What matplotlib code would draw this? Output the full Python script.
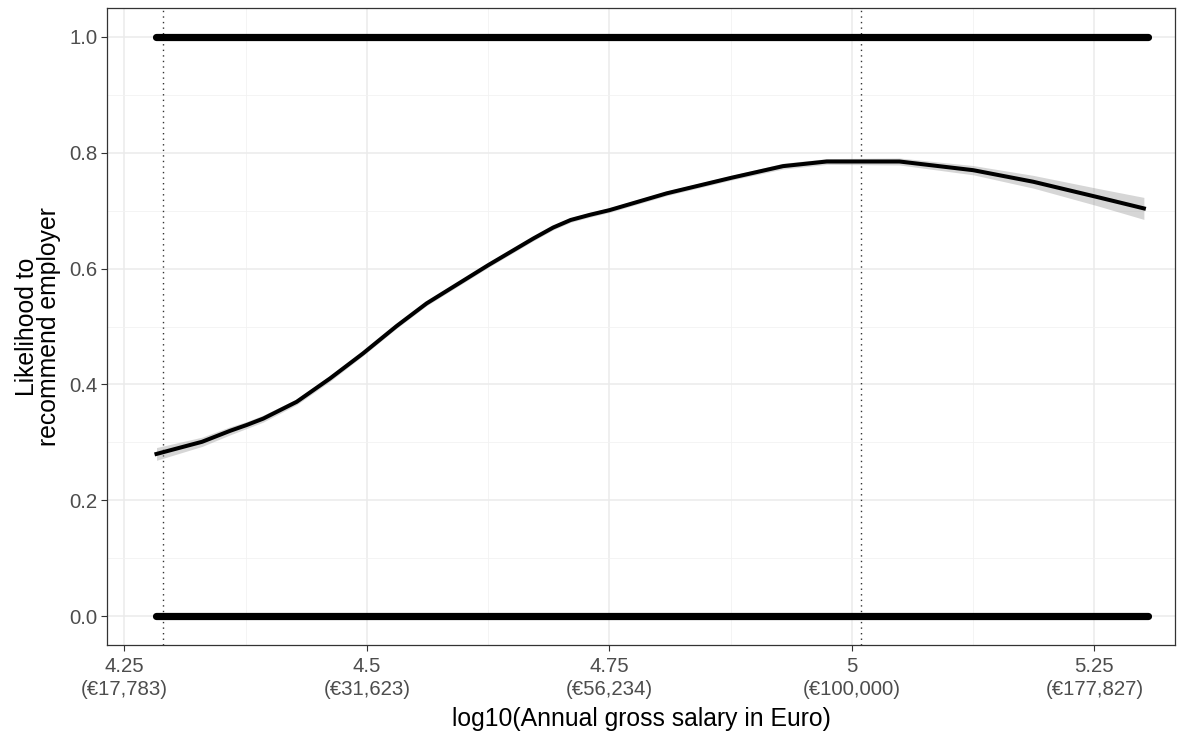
import numpy as np
import matplotlib
matplotlib.use("Agg")
import matplotlib.pyplot as plt

plt.rcParams['font.family'] = ['Liberation Sans', 'DejaVu Sans']

# ---- data ----
x_ticks = [4.25, 4.5, 4.75, 5.0, 5.25]
x_tick_labels = ["4.25\n(€17,783)", "4.5\n(€31,623)", "4.75\n(€56,234)",
                 "5\n(€100,000)", "5.25\n(€177,827)"]
y_ticks = [0.0, 0.2, 0.4, 0.6, 0.8, 1.0]
y_tick_labels = ["0.0", "0.2", "0.4", "0.6", "0.8", "1.0"]

# observed responses (0 / 1) span the salary range
point_x_range = [4.282, 5.305]
point_levels = [0, 1]

# reference (dotted) salary lines
vlines_x = [4.29, 5.009]

# smoothed fit
curve_x = [4.283, 4.330, 4.359, 4.376, 4.393, 4.4275, 4.462, 4.496, 4.5306,
           4.5615, 4.625, 4.6715, 4.692, 4.710, 4.730, 4.750, 4.809, 4.876,
           4.929, 4.974, 5.049, 5.125, 5.187, 5.252, 5.301]
curve_y = [0.280, 0.301, 0.320, 0.330, 0.341, 0.370, 0.4105, 0.4537, 0.5009,
           0.540, 0.606, 0.652, 0.671, 0.684, 0.693, 0.701, 0.730, 0.757,
           0.777, 0.785, 0.785, 0.770, 0.750, 0.724, 0.704]
curve_se = [0.011, 0.008, 0.007, 0.006, 0.006, 0.005, 0.005, 0.004, 0.004,
            0.004, 0.004, 0.004, 0.004, 0.004, 0.004, 0.004, 0.004, 0.004,
            0.005, 0.005, 0.006, 0.008, 0.011, 0.015, 0.019]

# ---- figure ----
fig = plt.figure(figsize=(11.88, 7.31), dpi=100)
ax = fig.add_axes([0.0901, 0.1176, 0.989 - 0.0901, 0.989 - 0.1176])

ax.set_xlim(4.232, 5.333)
ax.set_ylim(-0.050, 1.050)

# grid (theme_bw)
ax.set_xticks(x_ticks)
ax.set_yticks(y_ticks)
ax.set_xticks([4.375, 4.625, 4.875, 5.125], minor=True)
ax.set_yticks([0.1, 0.3, 0.5, 0.7, 0.9], minor=True)
ax.grid(True, which='major', color='#EBEBEB', linewidth=1.1, zorder=0)
ax.grid(True, which='minor', color='#F2F2F2', linewidth=0.6, zorder=0)
ax.tick_params(which='minor', length=0)
ax.set_axisbelow(True)

ax.set_xticklabels(x_tick_labels, fontsize=14.7, color='#4D4D4D',
                   linespacing=1.25)
ax.set_yticklabels(y_tick_labels, fontsize=14.7, color='#4D4D4D')
ax.tick_params(which='major', length=4, width=0.8, color='#333333', pad=3)
ax.tick_params(axis='x', which='major', pad=4.5)

for s in ax.spines.values():
    s.set_color('#333333')
    s.set_linewidth(0.9)

# observed points at 0 and 1
for lvl in point_levels:
    ax.plot(point_x_range, [lvl, lvl], color='black', linewidth=5.2,
            solid_capstyle='round', zorder=3)

# dotted reference lines
for vx in vlines_x:
    ax.axvline(vx, color='#333333', linestyle=(0, (1, 3)), linewidth=1.0,
               zorder=2)

# smooth with ribbon
cx = np.array(curve_x)
cy = np.array(curve_y)
se = np.array(curve_se)
ax.fill_between(cx, cy - se, cy + se, color='#999999', alpha=0.4,
                linewidth=0, zorder=3)
ax.plot(cx, cy, color='black', linewidth=2.9, zorder=4,
        solid_joinstyle='round')

ax.set_xlabel("log10(Annual gross salary in Euro)", fontsize=17.8,
              color='black', labelpad=6)
ax.set_ylabel("Likelihood to\nrecommend employer", fontsize=17.8,
              color='black', labelpad=6, linespacing=0.9)

fig.savefig("out.png", dpi=100)
